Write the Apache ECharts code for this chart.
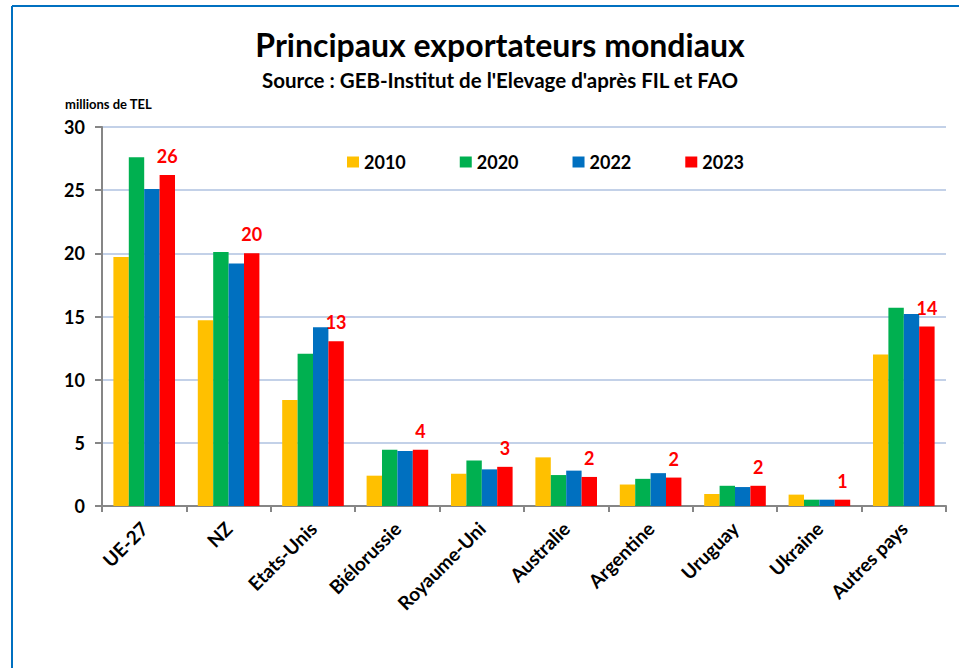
<!DOCTYPE html>
<html>
<head>
<meta charset="utf-8">
<script src="https://cdn.jsdelivr.net/npm/echarts@6/dist/echarts.min.js"></script>
<style>html,body{margin:0;padding:0;background:#fff}#c{width:959px;height:668px}</style>
</head>
<body>
<div id="c"></div>
<script>
var categories = ["UE-27","NZ","Etats-Unis","Biélorussie","Royaume-Uni","Australie","Argentine","Uruguay","Ukraine","Autres pays"];
var years = ["2010","2020","2022","2023"];
var v2010 = [19.7,14.7,8.4,2.4,2.55,3.85,1.7,0.95,0.9,12.0];
var v2020 = [27.6,20.1,12.05,4.45,3.6,2.45,2.15,1.6,0.5,15.7];
var v2022 = [25.1,19.2,14.15,4.35,2.9,2.8,2.6,1.5,0.5,15.2];
var v2023 = [26.2,20.0,13.05,4.45,3.1,2.3,2.25,1.6,0.5,14.2];
var yTicks = [0,5,10,15,20,25,30];
var colors = ["#FFC000","#00B050","#0070C0","#FF0000"];
var FONT = "Lato";

var chart = echarts.init(document.getElementById('c'), null, {renderer:'svg'});
function mk(name, data, color, withLabel){
  return {
    name: name, type:'bar', data:data, barGap:'0%', barCategoryGap:'27%',
    itemStyle:{color:color},
    label: withLabel ? {show:true, position:'top', distance:10, color:'#FF0000', fontFamily:FONT, fontWeight:'bold', fontSize:18,
      formatter:function(p){return Math.round(p.value);}} : {show:false}
  };
}
chart.setOption({
  animation:false,
  textStyle:{fontFamily:FONT},
  title:[
    {text:'Principaux exportateurs mondiaux', left:495, textAlign:'center', top:23,
     textStyle:{fontFamily:FONT, fontWeight:'bold', fontSize:32, color:'#000'}},
    {text:"Source : GEB-Institut de l'Elevage d'après FIL et FAO", left:495, textAlign:'center', top:64,
     textStyle:{fontFamily:FONT, fontWeight:'bold', fontSize:20.5, color:'#000'}},
    {text:'millions de TEL', left:60, top:92,
     textStyle:{fontFamily:FONT, fontWeight:'bold', fontSize:13, color:'#000'}}
  ],
  legend:{
    data:years, left:342, top:148, itemWidth:12, itemHeight:11, itemGap:54,
    icon:'rect',
    textStyle:{fontFamily:FONT, fontWeight:'bold', fontSize:18, color:'#000'}
  },
  grid:{left:102, right:13, top:127, bottom:162, containLabel:false},
  xAxis:{
    type:'category', data:categories,
    axisLine:{lineStyle:{color:'#868686', width:2}},
    axisTick:{show:true, length:6, lineStyle:{color:'#868686', width:2}},
    axisLabel:{rotate:45, margin:19, color:'#000', fontFamily:FONT, fontWeight:'bold', fontSize:19, interval:0}
  },
  yAxis:{
    type:'value', min:0, max:30, interval:5,
    axisLine:{show:true, lineStyle:{color:'#868686', width:2}},
    axisTick:{show:true, length:7, lineStyle:{color:'#868686', width:2}},
    axisLabel:{color:'#000', fontFamily:FONT, fontWeight:'bold', fontSize:18, margin:17,
      formatter:function(v){return yTicks.indexOf(v)>=0 ? String(v) : '';}},
    splitLine:{show:true, lineStyle:{color:'#C3D1E8', width:2}}
  },
  graphic:[
    {type:'line', shape:{x1:12, y1:6, x2:959, y2:6}, style:{stroke:'#0070C0', lineWidth:2}, silent:true},
    {type:'line', shape:{x1:12, y1:6, x2:12, y2:668}, style:{stroke:'#0070C0', lineWidth:2}, silent:true}
  ],
  series:[
    mk(years[0], v2010, colors[0], false),
    mk(years[1], v2020, colors[1], false),
    mk(years[2], v2022, colors[2], false),
    mk(years[3], v2023, colors[3], true)
  ]
});
</script>
</body>
</html>
